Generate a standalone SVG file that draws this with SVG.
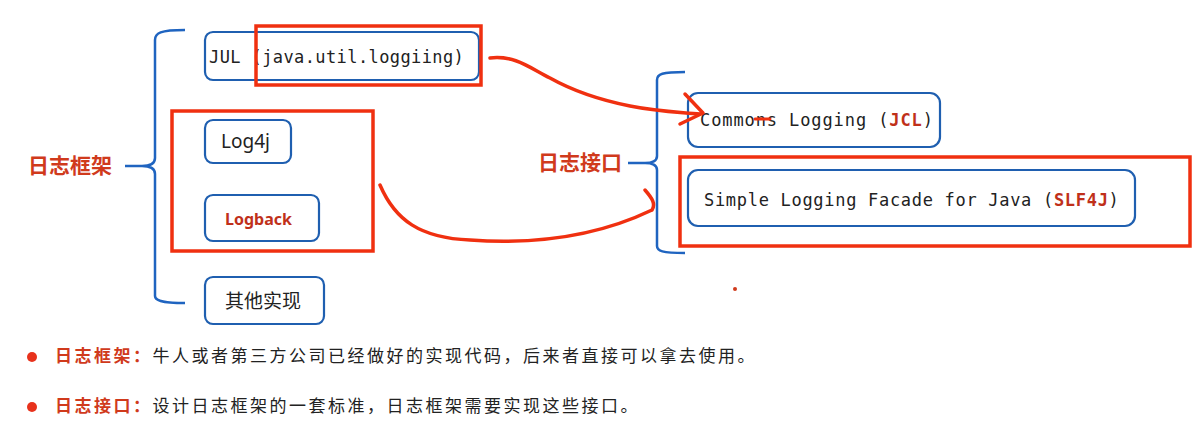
<svg xmlns="http://www.w3.org/2000/svg" width="1200" height="432" viewBox="0 0 1200 432">
<style>
.box{fill:#fff;stroke:#1f5fb0;stroke-width:2.2}
.brace{fill:none;stroke:#1f64c0;stroke-width:2.5}
.hl{fill:none;stroke:#f03010;stroke-width:3.5}
.ink{fill:none;stroke:#f03010;stroke-width:3.5;stroke-linecap:round;stroke-linejoin:round}
.mono{font-family:"DejaVu Sans Mono","Liberation Mono",monospace;font-size:17px;fill:#222;letter-spacing:0.4px}
.sans{font-family:"Noto Sans","Noto Sans CJK SC",sans-serif;font-size:19px;fill:#222}
.lbl{font-family:"Noto Sans CJK SC",sans-serif;font-size:21px;font-weight:bold;fill:#d03a1c}
.body{font-family:"Noto Sans CJK SC",sans-serif;font-size:17px;fill:#222;letter-spacing:2.5px}
</style>
<rect width="1200" height="432" fill="#fff"/>
<g id="brace-left"><path class="brace" d="M185,30 C160,30 155,33 155,40 V158 C155,164 150,166 142,166 H125 M142,166 C150,166 155,168 155,174 V296 C155,300 160,303 185,303"/></g>
<text class="lbl" x="28" y="173">日志框架</text>
<g id="jul"><rect class="box" x="205" y="32" width="274" height="48" rx="8"/><text class="mono" x="209" y="63">JUL (java.util.loggiing)</text></g>
<g id="log4j"><rect class="box" x="205" y="120" width="86" height="43" rx="8"/><text class="sans" x="221" y="148">Log4j</text></g>
<g id="logback"><rect class="box" x="205" y="195" width="114" height="46" rx="8"/><text class="sans" x="225" y="225" style="font-size:16px;font-weight:bold;fill:#c0301a">Logback</text></g>
<g id="other"><rect class="box" x="205" y="277" width="119" height="47" rx="8"/><text class="sans" x="225" y="308" style="font-family:'Noto Sans CJK SC',sans-serif">其他实现</text></g>
<g id="brace-right"><path class="brace" d="M685,72 C662,72 657,74 657,80 V156 C657,161 653,163 645,163 H628 M645,163 C653,163 657,165 657,170 V246 C657,251 662,253 685,253"/></g>
<text class="lbl" x="538" y="170">日志接口</text>
<g id="jcl"><rect class="box" x="688" y="93" width="252" height="54" rx="10"/><text class="mono" x="700" y="126" style="letter-spacing:0.9px">Commons Logging (<tspan style="fill:#c0301a;font-weight:bold">JCL</tspan>)</text></g>
<g id="slf4j"><rect class="box" x="688" y="170" width="447" height="56" rx="10"/><text class="mono" x="704" y="206" style="letter-spacing:0.7px">Simple Logging Facade for Java (<tspan style="fill:#c0301a;font-weight:bold">SLF4J</tspan>)</text></g>
<g id="highlights">
<rect class="hl" x="256" y="26" width="225" height="59"/>
<rect class="hl" x="172" y="111" width="201" height="140"/>
<rect class="hl" x="680" y="157" width="510" height="89"/>
</g>
<g id="connectors">
<path class="ink" d="M490,58 C515,55 530,68 550,78 C575,92 600,100 630,106 C660,112 680,112 700,114"/>
<path class="ink" d="M685,94 L703,113 L680,124"/>
<path class="ink" d="M380,185 C395,220 420,238 470,240 C540,245 600,235 652,210 M645,190 C652,198 656,204 652,210"/>
<path class="ink" d="M755,119 L770,119" style="stroke-width:3"/>
<circle cx="735" cy="289" r="2" fill="#d03a1c"/>
</g>
<g id="notes">
<circle cx="32" cy="357" r="5" fill="#e8321c"/>
<text class="body" x="55" y="362"><tspan style="fill:#d03a1c;font-weight:bold">日志框架：</tspan>牛人或者第三方公司已经做好的实现代码，后来者直接可以拿去使用。</text>
<circle cx="32" cy="407" r="5" fill="#e8321c"/>
<text class="body" x="55" y="412"><tspan style="fill:#d03a1c;font-weight:bold">日志接口：</tspan>设计日志框架的一套标准，日志框架需要实现这些接口。</text>
</g>
</svg>
